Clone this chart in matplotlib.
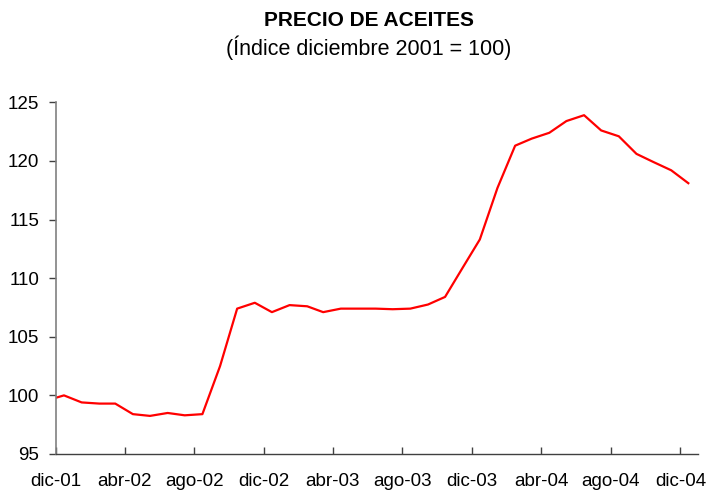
import datetime as dt
import matplotlib
matplotlib.use('Agg')
import matplotlib.pyplot as plt

# Data: oil price index (Dec 2001 = 100), first point at start of dic-01,
# then monthly values plotted at mid-month
start_date = dt.date(2001, 12, 1)
start_value = 99.8
monthly_values = [
    100.0, 99.4, 99.3, 99.3, 98.4, 98.25, 98.5, 98.3, 98.4, 102.5, 107.4, 107.9,
    107.1, 107.7, 107.6, 107.1, 107.4, 107.4, 107.4, 107.35, 107.4, 107.75, 108.4, 110.9,
    113.3, 117.7, 121.3, 121.9, 122.4, 123.4, 123.9, 122.6, 122.1, 120.6, 119.9, 119.2,
    118.1,
]
tick_labels = ['dic-01', 'abr-02', 'ago-02', 'dic-02', 'abr-03', 'ago-03',
               'dic-03', 'abr-04', 'ago-04', 'dic-04']
y_ticks = [95, 100, 105, 110, 115, 120, 125]


def add_months(d, n, day=1):
    m = d.month - 1 + n
    return dt.date(d.year + m // 12, m % 12 + 1, day)


dates = [start_date] + [add_months(start_date, i, 15) for i in range(len(monthly_values))]
values = [start_value] + monthly_values
tick_dates = [add_months(start_date, 4 * i) for i in range(len(tick_labels))]

plt.rcParams['font.family'] = ['Liberation Sans', 'DejaVu Sans']

fig = plt.figure(figsize=(7.17, 4.93), dpi=100)
ax = fig.add_axes([56 / 717, 1 - 454 / 493, (698 - 56) / 717, (454 - 102.3) / 493])

ax.plot(dates, values, color='#ff0000', linewidth=1.6)

ax.set_xlim(start_date, add_months(start_date, 37))
ax.set_ylim(95, 125)
ax.set_yticks(y_ticks)
ax.set_xticks(tick_dates)
ax.set_xticklabels(tick_labels)

for side in ('top', 'right'):
    ax.spines[side].set_visible(False)
ax.spines['left'].set_color('#808080')
ax.spines['bottom'].set_color('#404040')
ax.spines['left'].set_linewidth(1.2)
ax.spines['bottom'].set_linewidth(1.0)

ax.tick_params(axis='y', direction='out', length=5, width=1, color='#404040',
               labelsize=13.5, pad=7, labelcolor='black')
ax.tick_params(axis='x', direction='in', length=5, width=1, color='#404040',
               labelsize=13.5, pad=14, labelcolor='black')

title_x = 369 / 717
fig.text(title_x, 1 - 21 / 493, 'PRECIO DE ACEITES', ha='center', va='center',
         fontsize=15, fontweight='bold')
fig.text(title_x, 1 - 48 / 493, '(Índice diciembre 2001 = 100)', ha='center', va='center',
         fontsize=15.5)

fig.savefig('out.png', dpi=100)
